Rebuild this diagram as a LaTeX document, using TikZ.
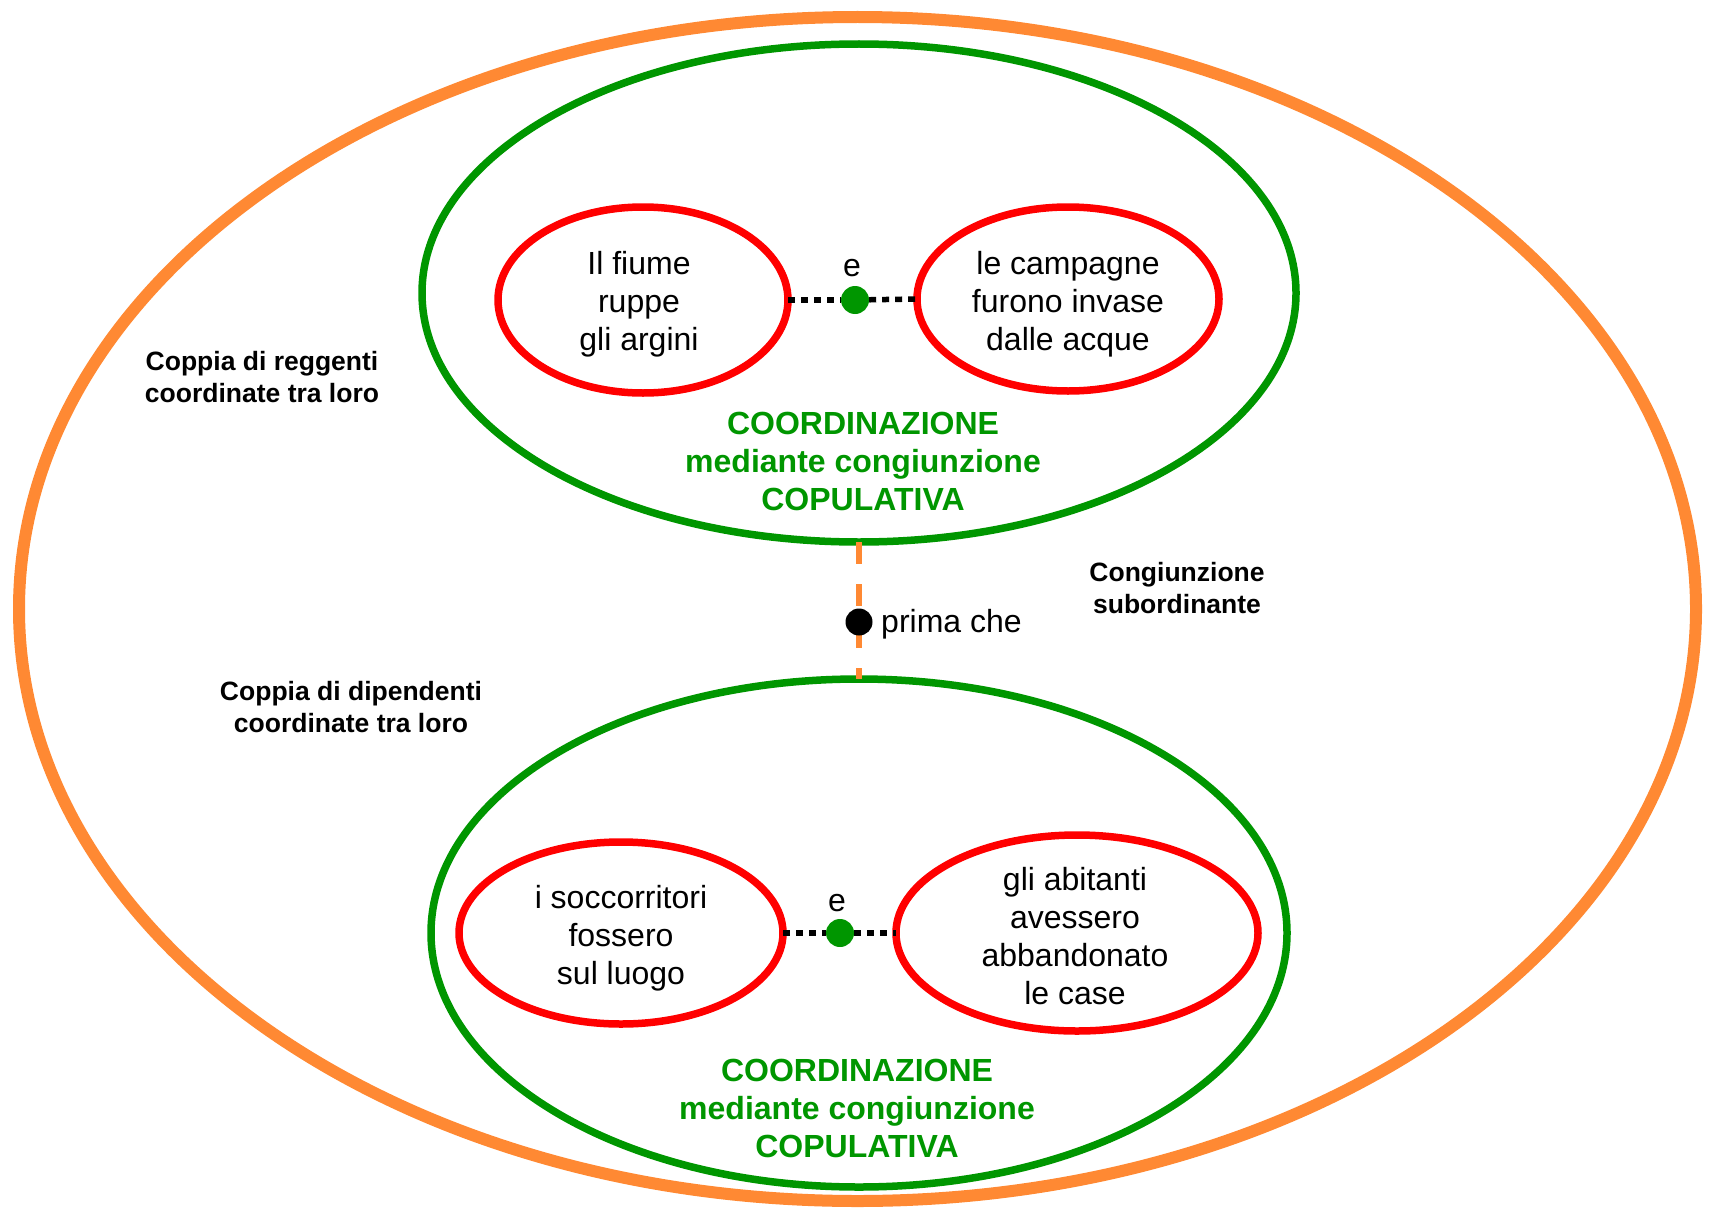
\documentclass[tikz,border=0pt]{standalone}
\usepackage{fontspec}
\setmainfont{Liberation Sans}
\usetikzlibrary{shapes.geometric}
\definecolor{orng}{RGB}{255,137,51}
\definecolor{grn}{RGB}{0,150,0}
\definecolor{rd}{RGB}{255,0,0}
\begin{document}
\begin{tikzpicture}[x=1pt,y=-1pt,
  oval/.style={ellipse,draw,inner sep=0pt,outer sep=0pt},
  outerov/.style={oval,draw=orng,line width=12pt},
  greenov/.style={oval,draw=grn,line width=7.5pt},
  redov/.style={oval,draw=rd,line width=7.5pt},
  txt/.style={align=center,font=\fontsize{32}{38}\selectfont},
  gtxt/.style={align=center,text=grn,font=\fontsize{32}{38}\selectfont\bfseries},
  btxt/.style={align=center,font=\fontsize{26.5}{32}\selectfont\bfseries},
  gdot/.style={circle,fill=grn,minimum size=28pt,inner sep=0pt},
  bdot/.style={circle,fill=black,minimum size=27pt,inner sep=0pt},
  dotline/.style={line width=5.5pt,dash pattern=on 7pt off 6pt},
  dashline/.style={draw=orng,line width=5.5pt,dash pattern=on 22pt off 20pt}
]
\useasboundingbox (0,0) rectangle (1712,1212);
\node[outerov,minimum width=1677pt,minimum height=1184pt] (outer) at (857.5,609) {};
\node[greenov,minimum width=874pt,minimum height=498pt] (gtop) at (859,293) {};
\node[greenov,minimum width=856pt,minimum height=508pt] (gbot) at (859,933) {};
\node[redov,minimum width=290pt,minimum height=186pt] (rtl) at (643,300) {};
\node[redov,minimum width=302pt,minimum height=184pt] (rtr) at (1068,299) {};
\node[redov,minimum width=324pt,minimum height=182pt] (rbl) at (621,933) {};
\node[redov,minimum width=362pt,minimum height=196pt] (rbr) at (1077,933) {};
\node[txt] (ttl) at (639,304) {Il fiume\\ruppe\\gli argini};
\node[txt] (ttr) at (1068,304) {le campagne\\furono invase\\dalle acque};
\node[txt] (tbl) at (621,938) {i soccorritori\\fossero\\sul luogo};
\node[txt] (tbr) at (1075,936) {gli abitanti\\avessero\\abbandonato\\le case};
\node[gdot] (d1) at (855,300) {};
\node[gdot] (d2) at (840,933) {};
\draw[dotline] (rtl.east) -- (d1);
\draw[dotline] (d1) -- (rtr.west);
\draw[dotline] (rbl.east) -- (d2);
\draw[dotline] (d2) -- (rbr.west);
\node[txt,inner sep=0pt] (e1) at (852,268) {e};
\node[txt,inner sep=0pt] (e2) at (837,903) {e};
\draw[dashline] (gtop.south) -- (gbot.north);
\node[bdot] (bd) at (859,622) {};
\node[txt,anchor=west,inner sep=0pt] (pc) at (881,624) {prima che};
\node[gtxt] (g1) at (863,461) {COORDINAZIONE\\mediante congiunzione\\COPULATIVA};
\node[gtxt] (g2) at (857,1108) {COORDINAZIONE\\mediante congiunzione\\COPULATIVA};
\node[btxt] (l1) at (262,377) {Coppia di reggenti\\coordinate tra loro};
\node[btxt] (l2) at (351,707) {Coppia di dipendenti\\coordinate tra loro};
\node[btxt] (l3) at (1177,588) {Congiunzione\\subordinante};
\end{tikzpicture}
\end{document}
